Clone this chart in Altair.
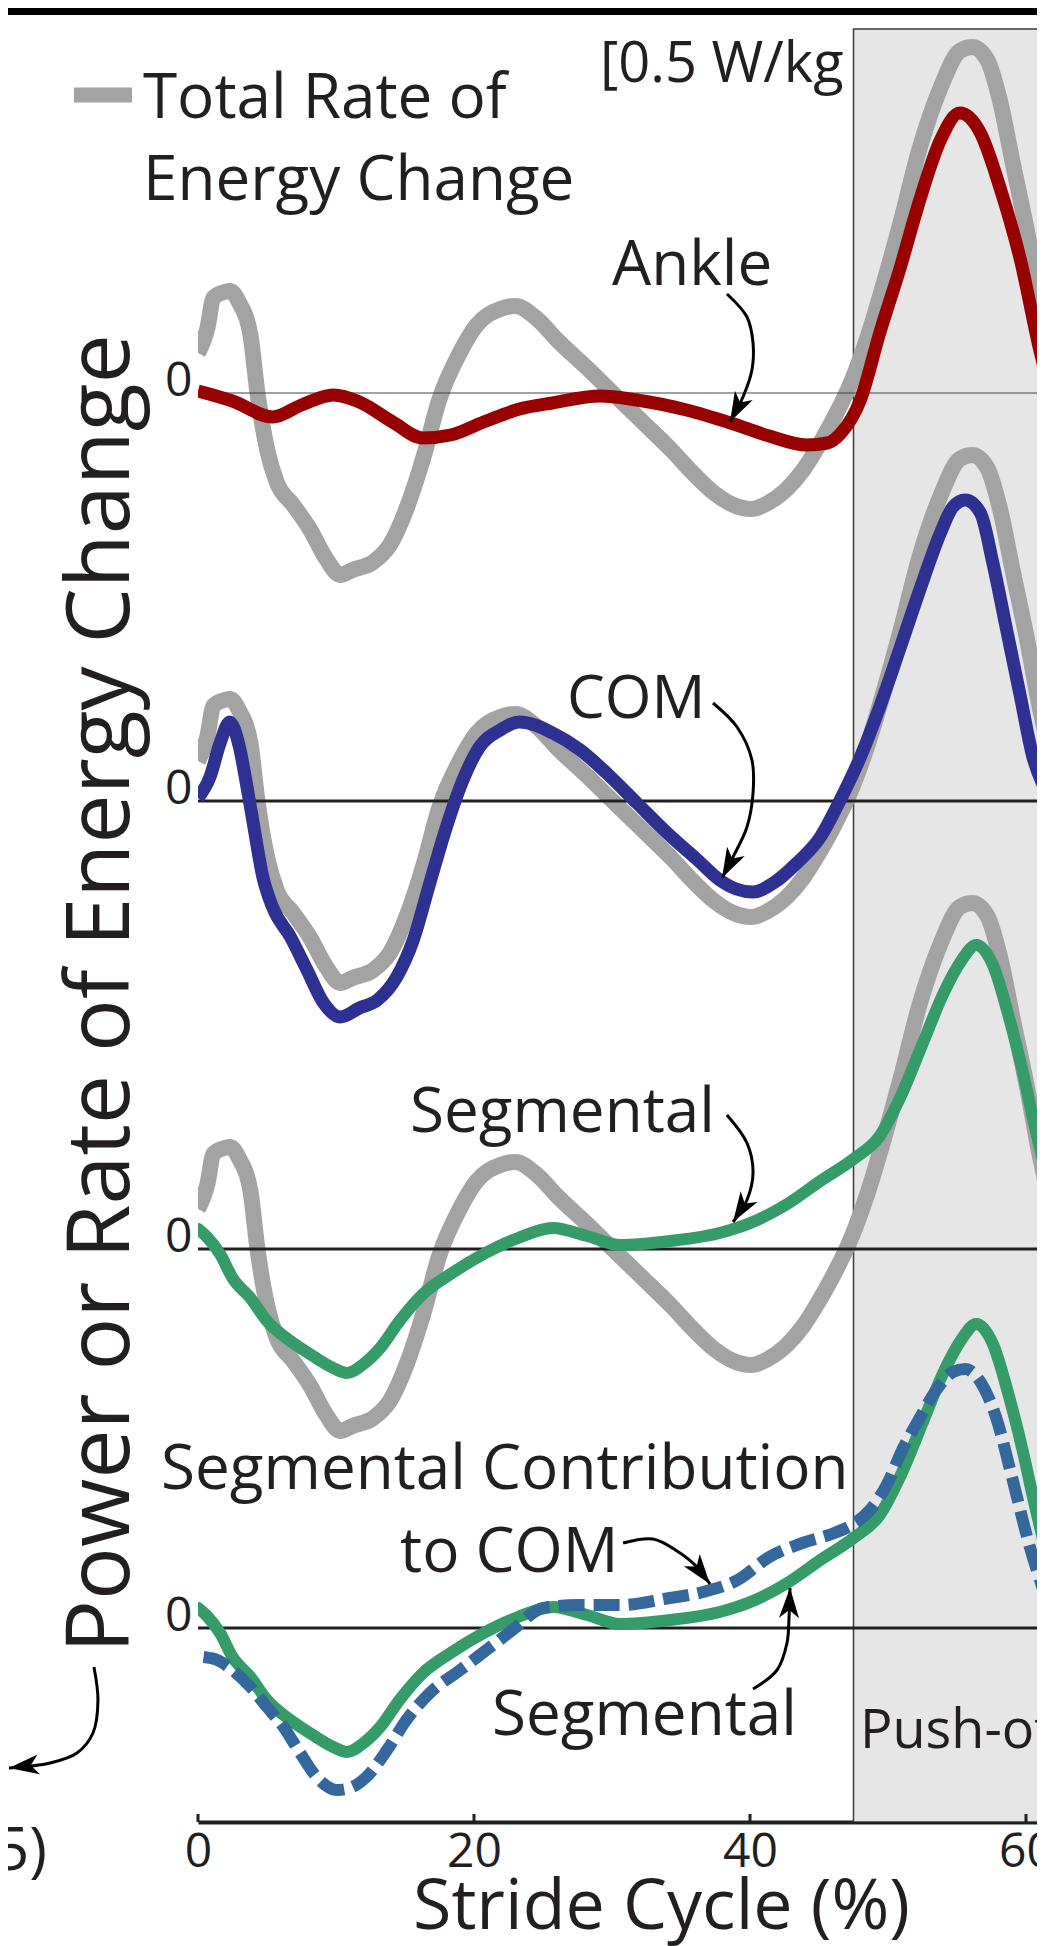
import math
import altair as alt
import pandas as pd

FONT = "Open Sans"
INK = "#231f20"
GRAY = "#a3a3a3"
RED = "#990000"
NAVY = "#2e3192"
GREEN = "#359b69"
STEEL = "#34689c"
SHADE = "#e6e6e6"

# ---------------- data ----------------
# x: % of stride cycle, values: W/kg relative to the panel's own zero line
TOTAL_X = [0, 0.7, 1.1, 1.7, 2.3, 3.0, 3.8, 4.3, 5.0, 5.7, 6.9, 8.1, 9.3, 10.3, 11.2,
           12.7, 13.9, 15.1, 16.3, 17.5, 19.0, 20.2, 21.9, 23.0, 24.5, 26.1, 28.2, 30.2,
           32.3, 34.3, 36.0, 37.4, 38.8, 40.1, 41.3, 42.6, 43.8, 45.0, 46.2, 47.3, 48.5,
           49.7, 50.9, 52.3, 53.8, 55.2, 56.1, 57.2, 58.1, 59.1, 60.1, 61.0, 62.0]
TOTAL_Y = [0.40, 0.66, 0.95, 1.00, 1.02, 0.90, 0.58, 0.01, -0.56, -0.89, -1.12, -1.36,
           -1.66, -1.82, -1.77, -1.69, -1.52, -1.16, -0.66, -0.06, 0.41, 0.68, 0.84, 0.87,
           0.75, 0.52, 0.25, -0.02, -0.30, -0.57, -0.82, -1.00, -1.12, -1.16, -1.10, -0.97,
           -0.78, -0.52, -0.22, 0.10, 0.55, 1.10, 1.70, 2.45, 3.05, 3.42, 3.46, 3.33, 2.93,
           2.26, 1.60, 0.93, 0.35]

ANKLE_X = [0, 2.5, 5.4, 7.5, 9.8, 11.7, 14.1, 16.3, 18.3, 20.7, 23.3, 25.7, 29.1, 31.8,
           35.4, 38.6, 41.4, 44.1, 45.6, 46.6, 48.0, 49.4, 50.9, 52.3, 53.8, 55.2, 56.7,
           58.1, 59.6, 61.0, 62.0]
ANKLE_Y = [0.02, -0.08, -0.24, -0.12, -0.02, -0.09, -0.29, -0.45, -0.42, -0.29, -0.16,
           -0.10, -0.03, -0.07, -0.17, -0.30, -0.43, -0.52, -0.50, -0.40, -0.07, 0.60, 1.26,
           1.93, 2.53, 2.80, 2.60, 2.06, 1.33, 0.43, -0.10]

COM_X = [0, 0.87, 1.6, 2.3, 3.0, 3.5, 4.0, 4.7, 5.4, 6.7, 7.9, 9.1, 10.3, 11.7, 13.0, 14.4,
         15.6, 16.8, 18.0, 19.2, 20.4, 21.9, 23.3, 25.7, 27.7, 29.6, 31.8, 34.0, 36.2, 37.8,
         39.0, 40.2, 41.7, 43.4, 45.1, 46.5, 48.0, 49.4, 50.9, 52.3, 53.8, 54.7, 55.6, 56.7,
         57.6, 58.6, 59.6, 60.5, 61.4, 62.5]
COM_Y = [0.03, 0.24, 0.58, 0.79, 0.54, 0.18, -0.22, -0.76, -1.06, -1.36, -1.69, -2.02,
         -2.16, -2.07, -1.99, -1.76, -1.39, -0.82, -0.26, 0.21, 0.54, 0.71, 0.79, 0.68, 0.51,
         0.28, -0.02, -0.32, -0.59, -0.79, -0.88, -0.91, -0.82, -0.62, -0.36, 0.0, 0.44,
         0.94, 1.54, 2.11, 2.68, 2.94, 3.01, 2.88, 2.38, 1.71, 1.04, 0.44, 0.11, -0.20]

SEG_X = [0, 0.65, 1.6, 2.5, 3.8, 5.0, 6.4, 8.1, 9.8, 10.8, 12.0, 13.2, 14.6, 16.3, 18.3,
         20.7, 23.2, 25.7, 28.2, 30.6, 34.2, 37.8, 40.2, 42.7, 45.1, 47.5, 49.4, 51.0, 52.5,
         54.0, 55.3, 56.4, 57.6, 58.8, 59.8, 60.6, 61.4, 62.5]
SEG_Y = [0.20, 0.12, -0.05, -0.29, -0.49, -0.72, -0.89, -1.05, -1.19, -1.24, -1.15, -0.99,
         -0.72, -0.45, -0.25, -0.05, 0.11, 0.21, 0.13, 0.04, 0.08, 0.16, 0.27, 0.45, 0.68,
         0.90, 1.13, 1.55, 2.05, 2.55, 2.88, 3.04, 2.84, 2.30, 1.75, 1.25, 0.80, 0.30]

SEGCOM_X = [0.4, 1.4, 2.5, 3.8, 5.0, 6.2, 7.4, 8.6, 10.1, 11.0, 12.2, 13.7, 15.1, 16.8,
            19.0, 20.9, 22.8, 25.0, 27.5, 30.6, 34.2, 36.6, 39.1, 41.4, 43.8, 46.3, 47.5,
            48.7, 49.9, 51.1, 52.3, 53.6, 54.7, 55.6, 56.7, 57.8, 59.0, 60.2, 61.2, 62.5]
SEGCOM_Y = [-0.29, -0.32, -0.42, -0.59, -0.79, -0.99, -1.25, -1.49, -1.62, -1.60, -1.49,
            -1.22, -0.92, -0.65, -0.42, -0.22, -0.02, 0.20, 0.23, 0.23, 0.30, 0.36, 0.48,
            0.71, 0.85, 0.96, 1.04, 1.18, 1.43, 1.80, 2.10, 2.40, 2.56, 2.59, 2.46, 2.12,
            1.50, 0.85, 0.40, -0.10]

PANEL_ZERO = [14.29, 10.21, 5.73, 1.94]   # zero line of each stacked panel
X_TICKS = [0, 20, 40, 60]
PUSH_OFF = 47.5

# ---------------- layout ----------------
W, H = 839, 1814
X_MAX = W / 13.8
Y_MAX = 18.14

xscale = alt.Scale(domain=[0, X_MAX], nice=False, zero=False)
yscale = alt.Scale(domain=[0, Y_MAX], nice=False, zero=False)

X_AXIS = alt.Axis(values=X_TICKS, title="Stride Cycle (%)", grid=False, ticks=False,
                  domain=True, domainColor=INK, domainWidth=4, labelFont=FONT,
                  labelFontSize=48, labelColor=INK, labelPadding=6, labelFlush=False,
                  titleFont=FONT, titleFontSize=70, titleFontWeight="normal",
                  titleColor=INK, titleX=463, titleY=106, titleAlign="center",
                  titleBaseline="alphabetic")
Y_AXIS = alt.Axis(values=PANEL_ZERO, labelExpr="'0'", grid=False, ticks=False,
                  domain=False, labelFont=FONT, labelFontSize=48, labelColor=INK,
                  labelPadding=6, labelBaseline="middle", labelOffset=-12,
                  title="Power or Rate of Energy Change", titleFont=FONT,
                  titleFontSize=88, titleFontWeight="normal", titleColor=INK,
                  titleX=-96, titleY=985, titleAngle=270, titleAlign="center",
                  titleBaseline="middle")


def ex(f="x"):
    return alt.X(f"{f}:Q", scale=xscale, axis=X_AXIS)


def ey(f="y"):
    return alt.Y(f"{f}:Q", scale=yscale, axis=Y_AXIS)


def frame(name, xs, vals, panel):
    return pd.DataFrame({"x": xs, "y": [v + PANEL_ZERO[panel] for v in vals],
                         "series": name, "panel": panel})


layers = []

# top border bar (remnant of the figure above)
top_bar = pd.DataFrame({"x": [-13.77], "x2": [X_MAX], "y": [18.07], "y2": [Y_MAX]})
layers.append(alt.Chart(top_bar).mark_rect(color="#000000").encode(
    x=ex(), x2="x2:Q", y=ey(), y2="y2:Q"))

# push-off shaded region
shade = pd.DataFrame({"x": [PUSH_OFF], "x2": [70], "y": [0], "y2": [17.93]})
layers.append(alt.Chart(shade).mark_rect(fill=SHADE, stroke="#3a3a3a", strokeWidth=1.5,
                                         clip=True).encode(
    x=ex(), x2="x2:Q", y=ey(), y2="y2:Q"))

# total rate of energy change (gray) in panels 1-3
total = pd.concat([frame("total", TOTAL_X, TOTAL_Y, p) for p in (0, 1, 2)])
layers.append(alt.Chart(total).mark_line(color=GRAY, strokeWidth=16, interpolate="monotone",
                                         strokeCap="butt", strokeJoin="round",
                                         clip=True).encode(
    x=ex(), y=ey(), detail="panel:N"))

# zero lines
zeros = pd.DataFrame({"x": [0] * 4, "x2": [X_MAX] * 4, "y": PANEL_ZERO,
                      "w": [1.2, 3, 3, 3], "c": ["#444444", INK, INK, INK]})
layers.append(alt.Chart(zeros).mark_rule().encode(
    x=ex(), x2="x2:Q", y=ey(), strokeWidth=alt.StrokeWidth("w:Q", scale=None),
    color=alt.Color("c:N", scale=None)))

# colored series
layers.append(alt.Chart(frame("ankle", ANKLE_X, ANKLE_Y, 0)).mark_line(
    color=RED, strokeWidth=13, interpolate="monotone", strokeCap="butt", clip=True).encode(
    x=ex(), y=ey()))
layers.append(alt.Chart(frame("com", COM_X, COM_Y, 1)).mark_line(
    color=NAVY, strokeWidth=13, interpolate="monotone", strokeCap="butt", clip=True).encode(
    x=ex(), y=ey()))
seg = pd.concat([frame("seg", SEG_X, SEG_Y, p) for p in (2, 3)])
layers.append(alt.Chart(seg).mark_line(
    color=GREEN, strokeWidth=12, interpolate="monotone", strokeCap="round", clip=True).encode(
    x=ex(), y=ey(), detail="panel:N"))
layers.append(alt.Chart(frame("segcom", SEGCOM_X, SEGCOM_Y, 3)).mark_line(
    color=STEEL, strokeWidth=12, interpolate="monotone", strokeCap="butt",
    strokeDash=[26, 9], clip=True).encode(x=ex(), y=ey()))

# x ticks pointing up from the axis
ticks = pd.DataFrame({"x": X_TICKS, "y": [0] * 4, "y2": [0.08] * 4})
layers.append(alt.Chart(ticks).mark_rule(color=INK, strokeWidth=3).encode(
    x=ex(), y=ey(), y2="y2:Q"))

# legend swatch
swatch = pd.DataFrame({"x": [-8.99], "x2": [-4.78], "y": [17.27]})
layers.append(alt.Chart(swatch).mark_rule(color=GRAY, strokeWidth=15, strokeCap="butt").encode(
    x=ex(), x2="x2:Q", y=ey()))

# annotation texts
LABEL_TEXT = ["Total Rate of", "Energy Change", "[0.5 W/kg", "Ankle", "COM", "Segmental",
              "Segmental Contribution", "to COM", "Segmental", "Push-off"]
LABEL_X = [-3.99, -3.99, 29.13, 30.0, 26.74, 15.36, -2.68, 14.64, 21.3, 47.97]
LABEL_Y = [17.04, 16.22, 17.40, 15.37, 11.04, 6.90, 3.33, 2.50, 0.87, 0.74]
LABEL_SIZE = [62, 62, 56, 62, 60, 62, 62, 62, 62, 54]
labels = pd.DataFrame({"t": LABEL_TEXT, "x": LABEL_X, "y": LABEL_Y, "fs": LABEL_SIZE})
layers.append(alt.Chart(labels).mark_text(align="left", baseline="alphabetic", font=FONT,
                                          color=INK).encode(
    x=ex(), y=ey(), text="t:N", size=alt.Size("fs:Q", scale=None)))
cut = pd.DataFrame({"t": ["5)"], "x": [-10.94], "y": [-0.48]})
layers.append(alt.Chart(cut).mark_text(align="right", baseline="alphabetic", font=FONT,
                                       color=INK, fontSize=60).encode(
    x=ex(), y=ey(), text="t:N"))

# curved arrows
ARROWS = {
    "ankle": ([38.33, 39.78, 40.22, 40.14, 39.49, 38.55], [15.28, 15.05, 14.79, 14.52, 14.25, 14.00]),
    "com": ([37.32, 39.06, 40.14, 40.22, 39.78, 38.77, 37.97], [11.19, 10.95, 10.62, 10.29, 9.95, 9.65, 9.44]),
    "seg3": ([38.33, 39.78, 40.22, 39.78, 38.77], [7.07, 6.79, 6.50, 6.22, 6.00]),
    "tocom": ([30.80, 32.97, 34.71, 36.16, 37.10], [2.79, 2.83, 2.71, 2.55, 2.38]),
    "seg4": ([40.22, 41.96, 42.68, 42.83, 42.90], [1.33, 1.52, 1.79, 2.05, 2.34]),
    "left": ([-7.54, -7.25, -7.61, -8.77, -10.72, -13.70], [1.55, 1.22, 0.89, 0.69, 0.59, 0.54]),
}
arrow_rows, head_rows = [], []
for name, (axs, ays) in ARROWS.items():
    for i, (a, b) in enumerate(zip(axs, ays)):
        arrow_rows.append({"arrow": name, "i": i, "x": a, "y": b})
    dx = (axs[-1] - axs[-2]) * W / X_MAX
    dy = -(ays[-1] - ays[-2]) * H / Y_MAX
    ang = math.degrees(math.atan2(dx, -dy)) % 360
    head_rows.append({"arrow": name, "x": axs[-1], "y": ays[-1], "ang": ang})
arrows = pd.DataFrame(arrow_rows)
heads = pd.DataFrame(head_rows)
layers.append(alt.Chart(arrows).mark_line(color="#000000", strokeWidth=3,
                                          interpolate="catmull-rom").encode(
    x=ex(), y=ey(), detail="arrow:N", order="i:Q"))
layers.append(alt.Chart(heads).mark_point(
    shape="M0,0 L-0.5,1.5 L0,1.1 L0.5,1.5 Z", filled=True, color="#000000", opacity=1,
    size=1600, strokeWidth=0).encode(
    x=ex(), y=ey(), angle=alt.Angle("ang:Q", scale=None)))

chart = alt.layer(*layers).properties(
    width=W, height=H,
    padding={"left": 190, "top": 0, "right": 0, "bottom": 124},
    autosize=alt.AutoSizeParams(type="none"),
    background="white",
).configure_view(stroke=None)

chart.save("out.html", embed_options={"renderer": "svg", "actions": False})
